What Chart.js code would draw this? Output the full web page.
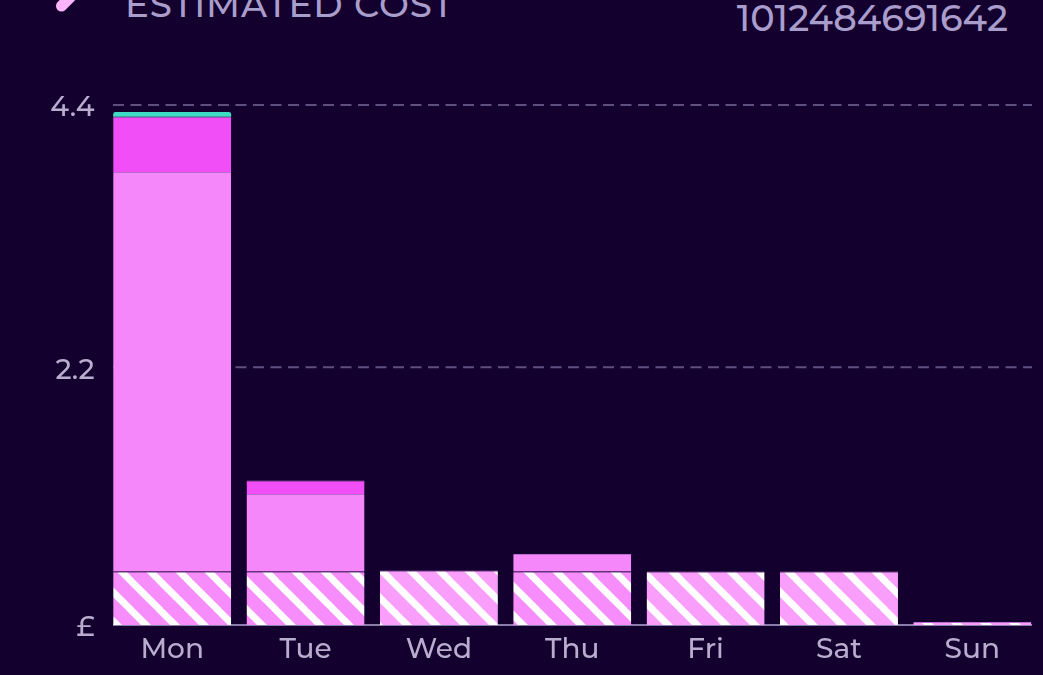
<!DOCTYPE html>
<html>
<head>
<meta charset="utf-8">
<style>
  html, body { margin: 0; padding: 0; background: #14002e; overflow: hidden; }
  #wrap { position: relative; width: 1043px; height: 675px; font-family: Montserrat, Lato, sans-serif; }
  canvas { position: absolute; left: 0; top: 0; }
  .head { position: absolute; color: #a99dcb; white-space: nowrap; line-height: 1; font-weight: 500; }
  #title { left: 125px; top: -13px; font-size: 35.6px; letter-spacing: 0.9px; }
  #mpan { right: 35px; top: 0px; font-size: 36.6px; }
  #icon { position: absolute; left: 62px; top: -14px; width: 11px; height: 28px; border-radius: 6px; background: #fbb4fd; transform: rotate(45deg); }
</style>
</head>
<body>
<div id="wrap">
  <div id="icon"></div>
  <div class="head" id="title">ESTIMATED COST</div>
  <div class="head" id="mpan">1012484691642</div>
  <canvas id="costChart" width="1043" height="675"></canvas>
</div>
<script src="https://cdn.jsdelivr.net/npm/chart.js@4"></script>
<script>
const days = ['Mon', 'Tue', 'Wed', 'Thu', 'Fri', 'Sat', 'Sun'];
const standingCharge = [0.453, 0.453, 0.461, 0.453, 0.453, 0.453, 0.025];
const offPeak = [3.38, 0.655, 0, 0.147, 0, 0, 0];
const peak = [0.467, 0.115, 0, 0, 0, 0, 0];
const other = [0.04, 0, 0, 0, 0, 0, 0];
const yTicks = [0, 2.18, 4.4];
const yTickLabels = ['£', '2.2', '4.4'];

// diagonal white stripes, anchored to the canvas so the phase runs across all bars
function hatch(color) {
    const period = 29;
    const c = document.createElement('canvas');
    c.width = period;
    c.height = period;
    const g = c.getContext('2d');
    g.fillStyle = color;
    g.fillRect(0, 0, period, period);
    g.strokeStyle = '#ffffff';
    g.lineWidth = 7;
    for (let i = -1; i <= 1; i++) {
        g.beginPath();
        g.moveTo(i * period - 2, -2);
        g.lineTo(i * period + period + 2, period + 2);
        g.stroke();
    }
    const p = g.createPattern(c, 'repeat');
    p.setTransform(new DOMMatrix().translate(14, 0));
    return p;
}

const hatchDark = hatch('#f68dfb');
const hatchLight = hatch('#fa9efc');

// dashed lines and baseline stop short of the plot edges
const gridLines = {
    id: 'gridLines',
    beforeDatasetsDraw(chart) {
        const g = chart.ctx;
        const y = chart.scales.y;
        const left = chart.chartArea.left + 7.5;
        const right = chart.chartArea.right - 7;
        g.save();
        g.lineWidth = 2;
        g.strokeStyle = '#5f4f80';
        g.setLineDash([11, 6.5]);
        yTicks.slice(1).forEach(function(v) {
            g.beginPath();
            g.moveTo(left, y.getPixelForValue(v));
            g.lineTo(right, y.getPixelForValue(v));
            g.stroke();
        });
        g.setLineDash([]);
        g.lineWidth = 1.5;
        g.strokeStyle = '#b3a6d6';
        g.beginPath();
        g.moveTo(left, y.getPixelForValue(0));
        g.lineTo(right, y.getPixelForValue(0));
        g.stroke();
        g.restore();
    }
};

const edge = { borderColor: '#b86ccb', borderWidth: { top: 1 } };
const tickFont = { family: 'Montserrat, Lato, sans-serif', size: 28, weight: '500' };

new Chart(document.getElementById('costChart').getContext('2d'), {
    type: 'bar',
    plugins: [gridLines],
    data: {
        labels: days,
        datasets: [
            {
                label: 'Standing charge',
                data: standingCharge,
                backgroundColor: [hatchDark, hatchDark, hatchLight, hatchDark, hatchLight, hatchLight, hatchLight],
                ...edge
            },
            { label: 'Off peak', data: offPeak, backgroundColor: '#f587fb', ...edge },
            { label: 'Peak', data: peak, backgroundColor: '#f24ef8', ...edge },
            { label: 'Other', data: other, backgroundColor: '#3fdcc4', borderRadius: { topLeft: 3, topRight: 3 } }
        ]
    },
    options: {
        responsive: false,
        animation: false,
        events: [],
        layout: { padding: { top: 105, right: 4 } },
        datasets: { bar: { barPercentage: 1, categoryPercentage: 0.885, borderSkipped: false } },
        plugins: { legend: { display: false }, tooltip: { enabled: false } },
        scales: {
            x: {
                stacked: true,
                grid: { display: false },
                border: { display: false },
                afterFit: function(s) { s.height = 50; },
                ticks: { color: '#b9adcf', padding: 0, maxRotation: 0, font: tickFont }
            },
            y: {
                stacked: true,
                min: 0,
                max: 4.4,
                grid: { display: false },
                border: { display: false },
                afterFit: function(s) { s.width = 105.5; },
                afterBuildTicks: function(s) { s.ticks = yTicks.map(function(v) { return { value: v }; }); },
                ticks: {
                    color: '#b9adcf',
                    padding: 3,
                    labelOffset: 3,
                    font: tickFont,
                    callback: function(v) { return yTickLabels[yTicks.indexOf(v)]; }
                }
            }
        }
    }
});
</script>
</body>
</html>
